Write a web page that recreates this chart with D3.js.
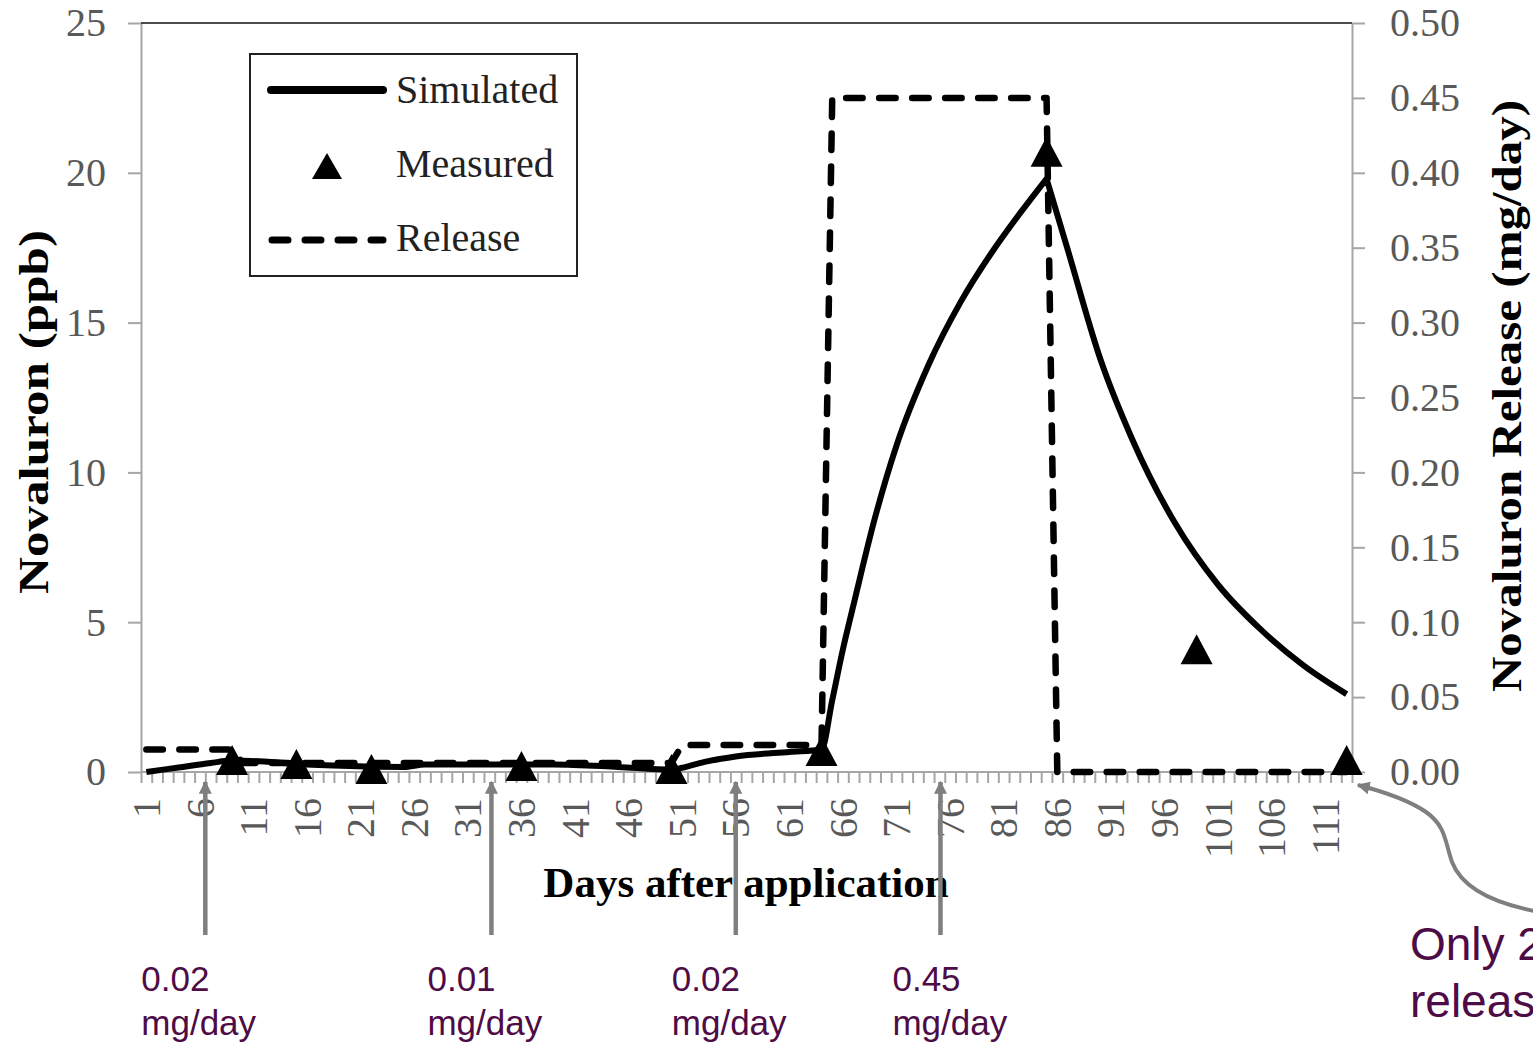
<!DOCTYPE html>
<html>
<head>
<meta charset="utf-8">
<script src="https://cdn.jsdelivr.net/npm/d3@7"></script>
<style>
  body { margin: 0; background: #fff; overflow: hidden; }
  svg { display: block; }
  .axis path, .axis line { stroke: #a6a6a6; stroke-width: 2; }
  .axis text { fill: #595959; font-family: "Liberation Serif", serif; font-size: 40px; }
  .title { font-family: "Liberation Serif", serif; font-weight: bold; font-size: 43px; fill: #000; }
  .legend text { font-family: "Liberation Serif", serif; font-size: 40px; fill: #222; }
  .note { font-family: "Liberation Sans", Arial, sans-serif; fill: #4e0c46; }
</style>
</head>
<body>
<svg id="chart" width="1533" height="1045"></svg>
<script>
// days after application shown on the category axis
const dayLabels = [1, 6, 11, 16, 21, 26, 31, 36, 41, 46, 51, 56, 61, 66, 71, 76, 81, 86, 91, 96, 101, 106, 111];
const ppbTicks = [0, 5, 10, 15, 20, 25];
const releaseTicks = [0, 0.05, 0.1, 0.15, 0.2, 0.25, 0.3, 0.35, 0.4, 0.45, 0.5];

// simulated concentration (ppb), split at the peak on day 85
const simDays = [1, 4, 7, 9, 12, 15, 20, 25, 27, 39, 45, 50, 51, 53, 56, 61, 64, 65, 66, 67, 69, 71, 74, 77, 80, 82, 85, 87, 90, 93, 97, 101, 105, 109, 113];
const simPpb = [0, 0.15, 0.3, 0.38, 0.35, 0.27, 0.2, 0.17, 0.25, 0.25, 0.17, 0.08, 0.14, 0.33, 0.52, 0.67, 0.75, 2.4, 4.1, 5.6, 8.5, 10.9, 13.6, 15.7, 17.4, 18.4, 19.8, 17.4, 13.8, 11.1, 8.3, 6.25, 4.75, 3.55, 2.6];
const peakDay = 85;

// measured concentration (ppb)
const measDays = [9, 15, 22, 36, 50, 64, 85, 99, 113];
const measPpb = [0.4, 0.27, 0.1, 0.2, 0.1, 0.7, 20.7, 4.1, 0.4];

// release rate (mg/day), right axis
const relDays = [1, 9, 10, 50, 51, 64, 65, 85, 86, 113];
const relRate = [0.015, 0.015, 0.006, 0.006, 0.018, 0.018, 0.45, 0.45, 0, 0];

// annotation arrows under the axis
const noteDays = [6.5, 33.2, 56, 75.1];
const noteRates = ['0.02', '0.01', '0.02', '0.45'];
const noteUnit = 'mg/day';
const calloutLines = ['Only 2', 'releas'];

const noteDx = [-64, -64, -64, -48];

const svg = d3.select('#chart');
const x = d3.scaleLinear().domain([0.5, 113.5]).range([141, 1352]);
const y = d3.scaleLinear().domain([0, 25]).range([772, 23]);
const y2 = d3.scaleLinear().domain([0, 0.5]).range([772, 23]);

const defs = svg.append('defs');
defs.append('marker').attr('id', 'head').attr('viewBox', '0 0 10 10')
  .attr('refX', 9).attr('refY', 5).attr('markerWidth', 13).attr('markerHeight', 13)
  .attr('markerUnits', 'userSpaceOnUse').attr('orient', 'auto')
  .append('path').attr('d', 'M0,0L10,5L0,10Z').attr('fill', '#7f7f7f');

// axes
const boundaries = d3.range(0.5, 114, 1);
svg.append('g').attr('class', 'axis').attr('transform', 'translate(0,772)')
  .call(d3.axisBottom(x).tickValues(boundaries).tickSize(11).tickFormat(''))
  .call((g) => g.select('.domain').attr('d', `M${x.range()[0]},0H${x.range()[1]}`));

const labels = svg.append('g').attr('class', 'axis');
labels.selectAll('text').data(dayLabels).join('text')
  .attr('transform', (d) => `translate(${x(d)},798) rotate(-90)`)
  .attr('text-anchor', 'end').attr('dy', '0.34em').text((d) => d);

svg.append('g').attr('class', 'axis').attr('transform', 'translate(141,0)')
  .call(d3.axisLeft(y).tickValues(ppbTicks).tickSize(13).tickPadding(22).tickSizeOuter(0));
svg.append('g').attr('class', 'axis').attr('transform', 'translate(1352,0)')
  .call(d3.axisRight(y2).tickValues(releaseTicks).tickSize(13).tickPadding(25).tickSizeOuter(0).tickFormat(d3.format('.2f')));
svg.selectAll('.axis text').attr('fill', '#595959');

svg.append('line').attr('x1', x.range()[0]).attr('x2', x.range()[1]).attr('y1', 23).attr('y2', 23)
  .attr('stroke', '#111').attr('stroke-width', 1.5);

// titles
svg.append('text').attr('class', 'title').attr('transform', 'translate(48,412) rotate(-90)')
  .attr('text-anchor', 'middle').attr('textLength', 364).attr('lengthAdjust', 'spacingAndGlyphs')
  .text('Novaluron (ppb)');
svg.append('text').attr('class', 'title').attr('transform', 'translate(1521,396) rotate(-90)')
  .attr('text-anchor', 'middle').attr('textLength', 592).attr('lengthAdjust', 'spacingAndGlyphs')
  .text('Novaluron Release (mg/day)');
svg.append('text').attr('class', 'title').attr('x', 746).attr('y', 897)
  .attr('text-anchor', 'middle').text('Days after application');

// series
const release = relDays.map((d, i) => [d, relRate[i]]);
const simulated = simDays.map((d, i) => [d, simPpb[i]]);
const measured = measDays.map((d, i) => [d, measPpb[i]]);

svg.append('path').datum(release)
  .attr('fill', 'none').attr('stroke', '#000').attr('stroke-width', 6.5)
  .attr('stroke-dasharray', '16.5,16.5').attr('stroke-linecap', 'round').attr('stroke-linejoin', 'round')
  .attr('d', d3.line().x((d) => x(d[0])).y((d) => y2(d[1])));

const simLine = d3.line().x((d) => x(d[0])).y((d) => y(d[1])).curve(d3.curveMonotoneX);
const rising = simulated.filter((d) => d[0] <= peakDay);
const falling = simulated.filter((d) => d[0] >= peakDay);
svg.append('path')
  .attr('fill', 'none').attr('stroke', '#000').attr('stroke-width', 6).attr('stroke-linejoin', 'round')
  .attr('d', simLine(rising) + simLine(falling).replace(/^M[^LC]*/, ''));

const triangle = (w, h) => `M0,${-h / 2}L${w / 2},${h / 2}L${-w / 2},${h / 2}Z`;
svg.append('g').selectAll('path').data(measured).join('path')
  .attr('transform', (d) => `translate(${x(d[0])},${y(d[1])})`)
  .attr('d', triangle(32, 30)).attr('fill', '#000');

// legend
const legend = svg.append('g').attr('class', 'legend');
legend.append('rect').attr('x', 250).attr('y', 54).attr('width', 327).attr('height', 222)
  .attr('fill', '#fff').attr('stroke', '#222').attr('stroke-width', 2);
legend.append('line').attr('x1', 271).attr('x2', 383).attr('y1', 90).attr('y2', 90)
  .attr('stroke', '#000').attr('stroke-width', 8).attr('stroke-linecap', 'round');
legend.append('path').attr('transform', 'translate(327,166)').attr('d', triangle(30, 26)).attr('fill', '#000');
legend.append('line').attr('x1', 272).attr('x2', 383).attr('y1', 240).attr('y2', 240)
  .attr('stroke', '#000').attr('stroke-width', 7).attr('stroke-linecap', 'round').attr('stroke-dasharray', '16,17');
[['Simulated', 103], ['Measured', 177], ['Release', 251]].forEach(([label, base]) => {
  legend.append('text').attr('x', 396).attr('y', base).text(label);
});

// annotations
const notes = svg.append('g');
noteDays.forEach((day, i) => {
  const px = x(day);
  notes.append('line').attr('x1', px).attr('x2', px).attr('y1', 935).attr('y2', 782)
    .attr('stroke', '#7f7f7f').attr('stroke-width', 4.5).attr('marker-end', 'url(#head)');
  const t = notes.append('text').attr('class', 'note').attr('font-size', 35);
  t.append('tspan').attr('x', px + noteDx[i]).attr('y', 991).text(noteRates[i]);
  t.append('tspan').attr('x', px + noteDx[i]).attr('y', 1035).text(noteUnit);
});

notes.append('path')
  .attr('d', 'M1540,912C1495,904 1462,888 1452,862C1445,842 1446,826 1426,812C1410,801 1385,792 1358,785')
  .attr('fill', 'none').attr('stroke', '#7f7f7f').attr('stroke-width', 4).attr('marker-end', 'url(#head)');
const callout = notes.append('text').attr('class', 'note').attr('font-size', 46);
calloutLines.forEach((line, i) => {
  callout.append('tspan').attr('x', 1410).attr('y', 960 + i * 57).text(line);
});
</script>
</body>
</html>
